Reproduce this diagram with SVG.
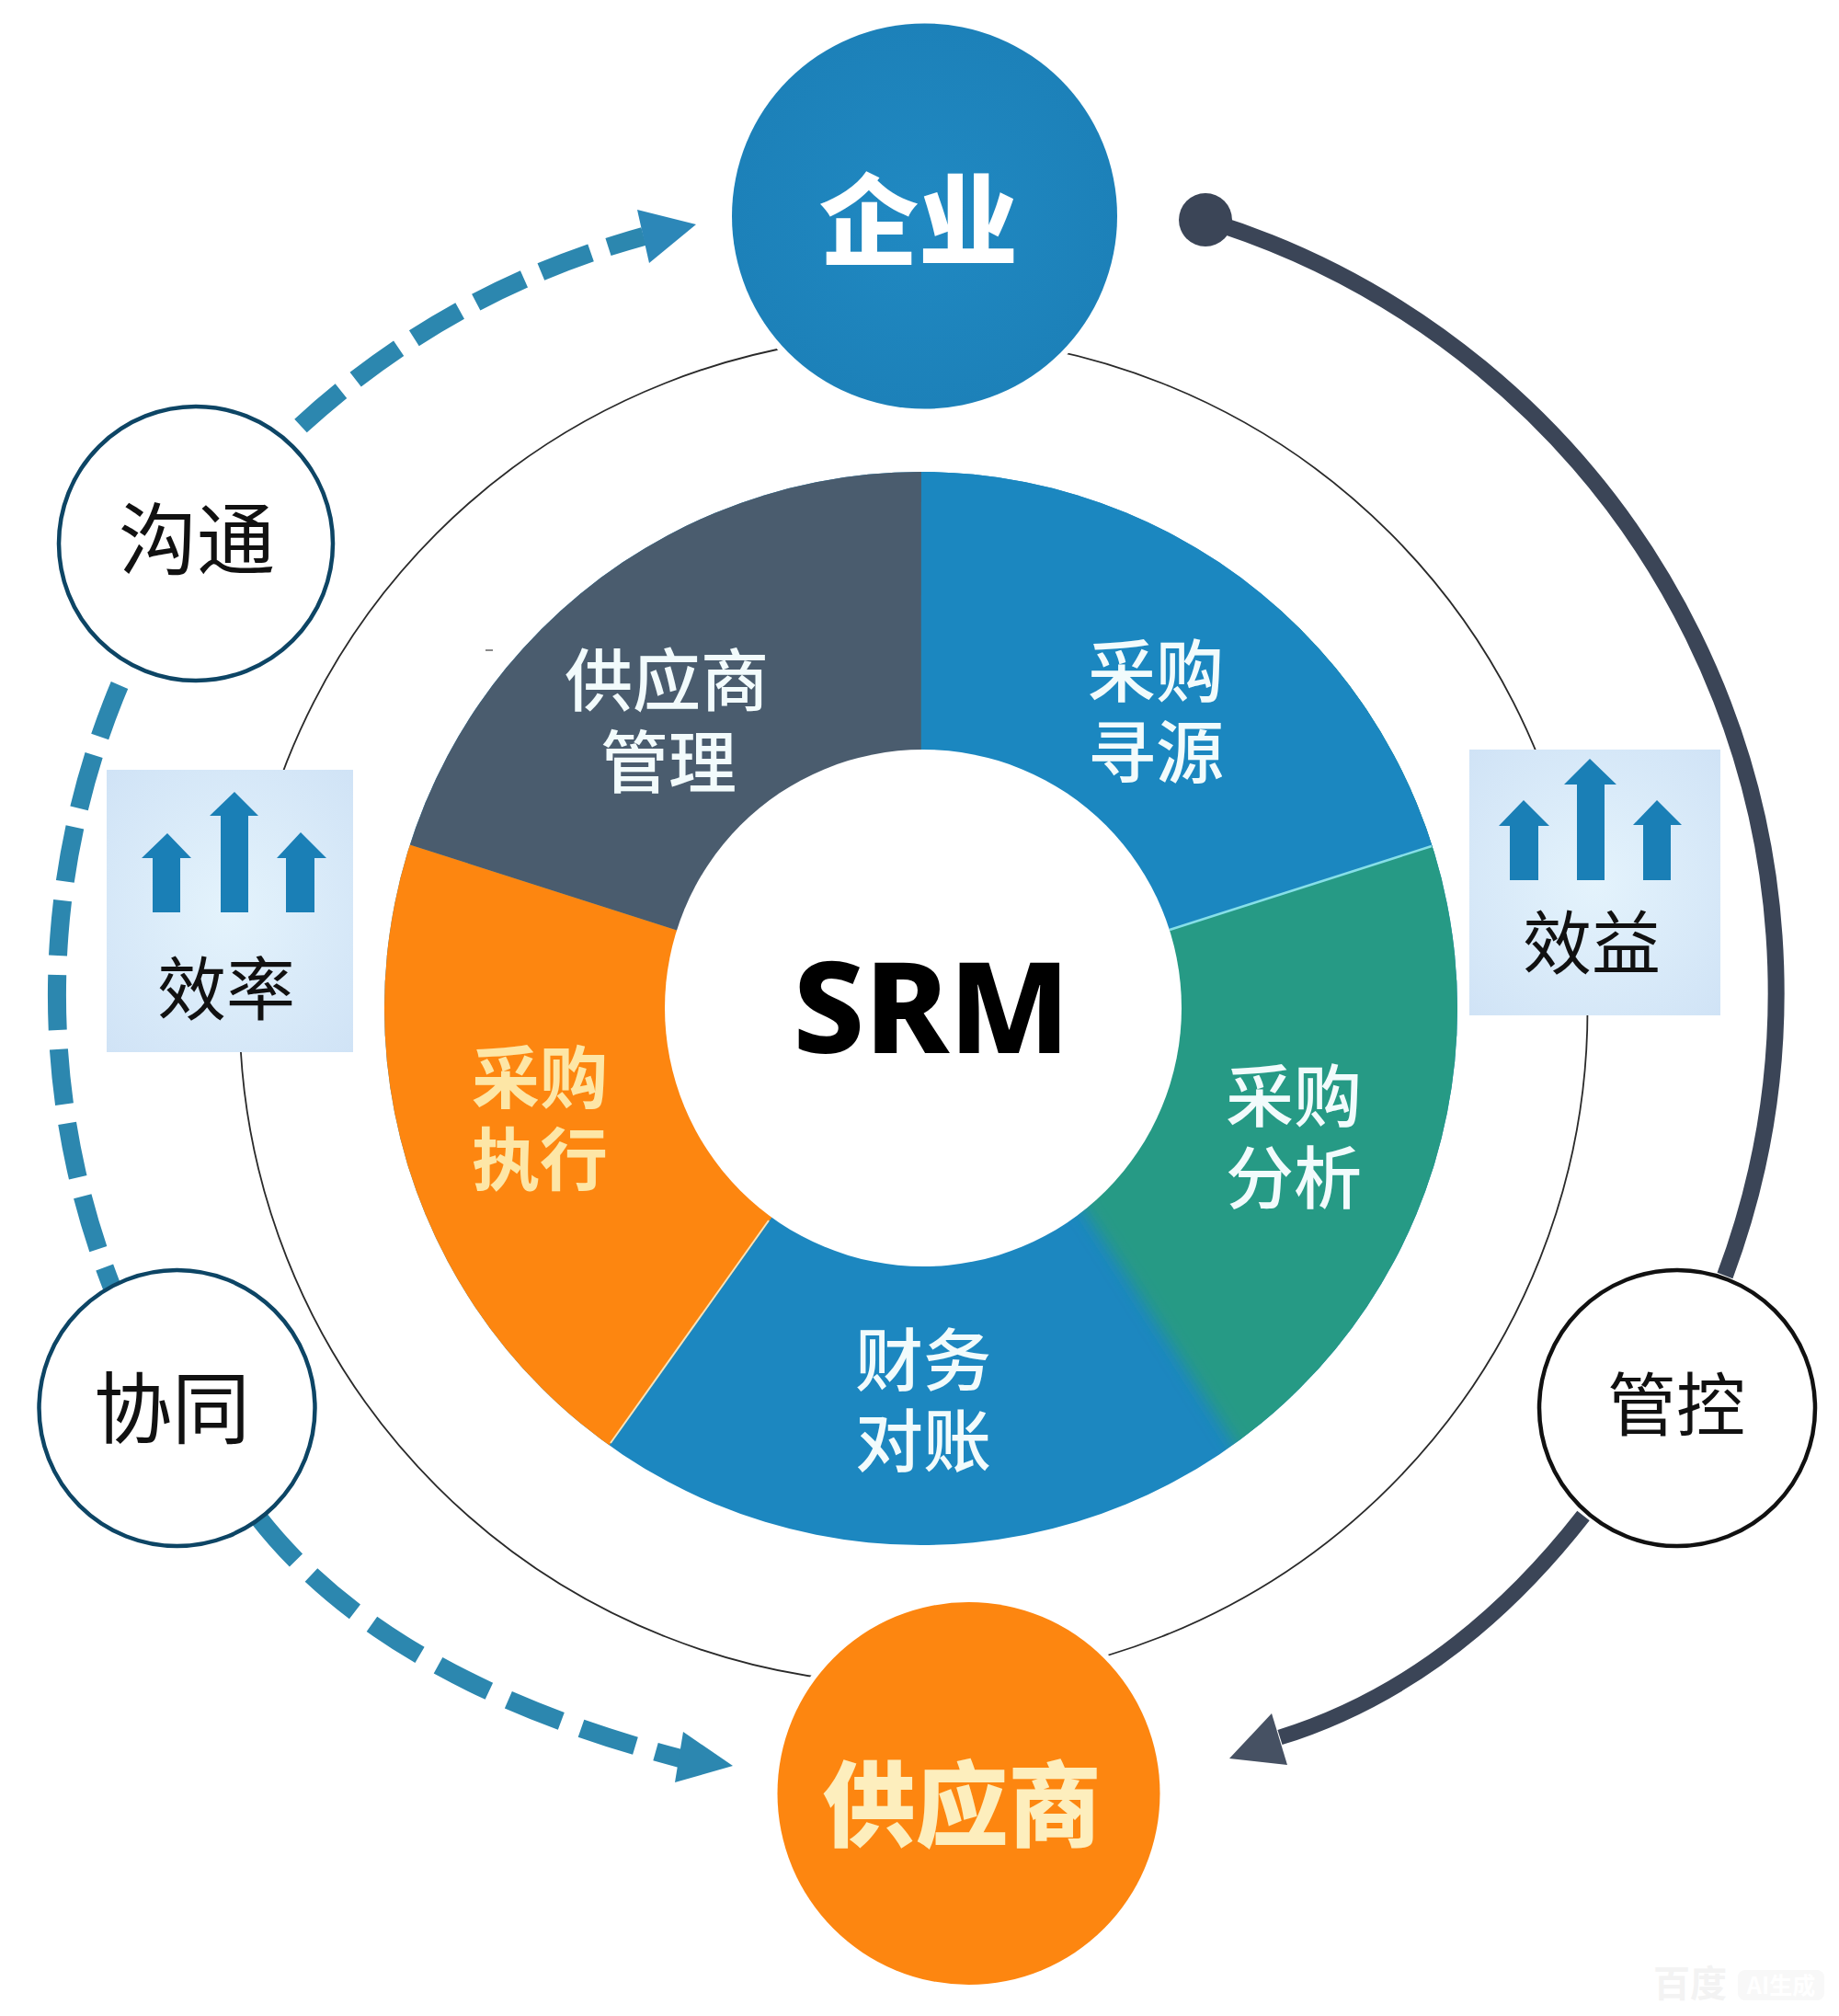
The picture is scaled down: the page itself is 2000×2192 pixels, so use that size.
<svg xmlns="http://www.w3.org/2000/svg" width="2000" height="2192" viewBox="0 0 2000 2192">
<style>
text{font-family:"Noto Sans CJK SC","Noto Sans",sans-serif;text-anchor:middle}
.seg{font-size:74px;font-weight:500;fill:#f2fbfc}
.out{fill:#fff;stroke-width:4.5}
.lbl{fill:#111;font-size:75px}
.dash{fill:none;stroke:#2c87af;stroke-width:20}
.dark{fill:none;stroke:#3b4557}
.up{fill:#1a7fb6}
.boxbg{fill:url(#boxg)}
</style>
<defs>
<radialGradient id="boxg" cx="50%" cy="50%" r="70%"><stop offset="0" stop-color="#e4f3fc"/><stop offset="1" stop-color="#d0e3f6"/></radialGradient>
<radialGradient id="topg" cx="50%" cy="50%" r="55%"><stop offset="0" stop-color="#2089c2"/><stop offset="1" stop-color="#1c80b8"/></radialGradient>
<clipPath id="donut"><circle cx="1001.5" cy="1096.5" r="583.5"/></clipPath>
<filter id="soft" x="-20%" y="-20%" width="140%" height="140%"><feGaussianBlur stdDeviation="9"/></filter>
</defs>
<rect width="2000" height="2192" fill="#fff"/>

<circle id="ring" cx="993.5" cy="1098" r="733" fill="none" stroke="#2a2a2a" stroke-width="1.8"/>

<g id="pie" clip-path="url(#donut)">
<rect x="400" y="500" width="1200" height="1200" fill="#1c87c0"/>
<polygon points="1230,1394 1000,1040 1000,700 1900,600 1900,1900 1435,1780 1344,1572" fill="#289a85" filter="url(#soft)"/>
<polygon id="seg-sourcing" points="1001.5,1096.5 1002,300 1800,300 1724,867" fill="#1b87c0"/>
<polygon id="seg-supplier" points="1001.5,1096.5 282,866 282,300 1002,300" fill="#4a5c6e"/>
<polygon id="seg-exec" points="1001.5,1096.5 282,866 200,1900 563,1711" fill="#fd8610"/>
<line x1="1272" y1="1011" x2="1557" y2="920" stroke="#86dfe8" stroke-width="2.5"/>
<line x1="836" y1="1327" x2="664" y2="1569" stroke="#f6e4bc" stroke-width="2"/>
</g>
<g id="hub">
<circle cx="1004" cy="1096" r="281" fill="#fff"/>
<text x="1013" y="1145" font-size="138" font-weight="800" fill="#000" style="font-family:'Noto Sans','Open Sans',sans-serif">SRM</text>
</g>
<g id="labels">
<text class="seg" x="725" y="767">供应商</text>
<text class="seg" x="727" y="856">管理</text>
<text class="seg" x="1257" y="757">采购</text>
<text class="seg" x="1257" y="845">寻源</text>
<text class="seg" x="1407" y="1219">采购</text>
<text class="seg" x="1407" y="1308">分析</text>
<text class="seg" x="1004" y="1506">财务</text>
<text class="seg" x="1004" y="1594">对账</text>
<text class="seg" x="587" y="1199" style="fill:#fde6a6;font-weight:700">采购</text>
<text class="seg" x="587" y="1288" style="fill:#fde6a6;font-weight:700">执行</text>
</g>

<g id="connectors">
<path class="dash" d="M327 463Q487 316 700 257" stroke-dasharray="58 20"/>
<polygon points="693,228 757,244 706,286" fill="#2c87b8"/>
<path class="dash" d="M130 745A870 870 0 0 0 122 1400" stroke-dasharray="60 21"/>
<path class="dash" d="M281 1650Q420 1828 740 1912" stroke-dasharray="62 23"/>
<polygon points="743,1883 797,1920 734,1938" fill="#2c87b0"/>
<path class="dark" d="M1311 239A879 879 0 0 1 1876 1387" stroke-width="18"/>
<circle cx="1311" cy="239" r="29" fill="#3b4557"/>
<path class="dark" d="M1722 1648Q1579 1831 1392 1889" stroke-width="17"/>
<polygon points="1337,1912 1383,1863 1400,1919" fill="#465163"/>
</g>

<g id="node-enterprise">
<circle cx="1005.5" cy="235" r="216" fill="#fff"/>
<circle cx="1005.5" cy="235" r="209.5" fill="url(#topg)"/>
<text x="999" y="280" font-size="108" font-weight="900" fill="#fff">企业</text>
</g>
<g id="node-supplier">
<circle cx="1053.5" cy="1950" r="214" fill="#fff"/>
<circle cx="1053.5" cy="1950" r="208" fill="#fd8610"/>
<text x="1046" y="2000" font-size="101" font-weight="900" fill="#fdeebd">供应商</text>
</g>
<g id="node-comm">
<circle class="out" cx="213" cy="591" r="149" stroke="#0d4565"/>
<text class="lbl" x="214" y="618" style="font-size:85px">沟通</text>
</g>
<g id="node-collab">
<circle class="out" cx="192.5" cy="1531" r="150" stroke="#0d4565"/>
<text class="lbl" x="187" y="1563" style="font-size:85px">协同</text>
</g>
<g id="node-control">
<circle class="out" cx="1824" cy="1531" r="150" stroke="#111"/>
<text class="lbl" x="1823" y="1555">管控</text>
</g>
<g id="node-efficiency">
<rect class="boxbg" x="116" y="837" width="268" height="307"/>
<polygon class="up" points="182,906 208,933 196,933 196,992 166,992 166,933 154,933"/>
<polygon class="up" points="255,861 281,887 270,887 270,992 240,992 240,887 228,887"/>
<polygon class="up" points="327,905 355,933 342,933 342,992 311,992 311,933 301,933"/>
<text class="lbl" x="246" y="1103">效率</text>
</g>
<g id="node-benefit">
<rect class="boxbg" x="1598" y="815" width="273" height="289"/>
<polygon class="up" points="1657,870 1685,898 1673,898 1673,957 1642,957 1642,898 1630,898"/>
<polygon class="up" points="1729,825 1758,853 1745,853 1745,957 1715,957 1715,853 1701,853"/>
<polygon class="up" points="1802,870 1829,897 1817,897 1817,957 1787,957 1787,897 1776,897"/>
<text class="lbl" x="1731" y="1053">效益</text>
</g>
<rect x="528" y="706" width="8" height="2" fill="#8a8a8a"/>
<g id="watermark">
<text x="1838" y="2171" font-size="40" font-weight="700" fill="#f3f3f3">百度</text>
<rect x="1890" y="2142" width="94" height="33" rx="8" fill="#f8f8f8"/>
<text x="1937" y="2168" font-size="25" font-weight="700" fill="#fff">AI生成</text>
</g>
</svg>
